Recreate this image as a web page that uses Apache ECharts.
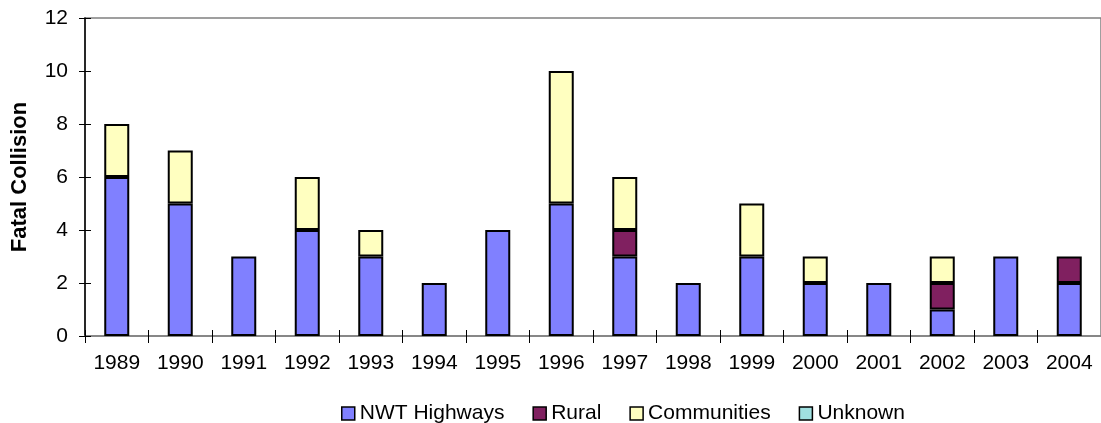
<!DOCTYPE html>
<html>
<head>
<meta charset="utf-8">
<script src="https://cdn.jsdelivr.net/npm/echarts@6/dist/echarts.min.js"></script>
<style>html,body{margin:0;padding:0;background:#fff}#c{width:1101px;height:423px}</style>
</head>
<body>
<div id="c"></div>
<script>
var years = ['1989','1990','1991','1992','1993','1994','1995','1996','1997','1998','1999','2000','2001','2002','2003','2004'];
var highways    = [6,5,3,4,3,2,4,5,3,2,3,2,2,1,3,2];
var rural       = [0,0,0,0,0,0,0,0,1,0,0,0,0,1,0,1];
var communities = [2,2,0,2,1,0,0,5,2,0,2,1,0,1,0,0];
var unknown     = [0,0,0,0,0,0,0,0,0,0,0,0,0,0,0,0];
var yTicks = [0,2,4,6,8,10,12];

var font = 'Liberation Sans, Arial, sans-serif';
function ser(name, data, color) {
  return {
    name: name, type: 'bar', stack: 'a', barWidth: 25,
    data: data.map(function (v) { return v === 0 ? null : v; }),
    itemStyle: { color: color, borderColor: '#000', borderWidth: 2 },
    emphasis: { disabled: true }, animation: false
  };
}
var chart = echarts.init(document.getElementById('c'));
chart.setOption({
  animation: false,
  grid: { left: 85, top: 18, width: 1025, height: 318, show: true, borderColor: '#808080', borderWidth: 1.5, backgroundColor: 'transparent' },
  legend: {
    left: 336, top: 398, icon: 'rect', itemWidth: 13, itemHeight: 13, itemGap: 28,
    textStyle: { fontFamily: font, fontSize: 21, color: '#000' },
    itemStyle: { borderColor: '#000', borderWidth: 1.5 },
    data: ['NWT Highways','Rural','Communities','Unknown']
  },
  xAxis: [{
    type: 'category', data: years, boundaryGap: true,
    axisLine: { lineStyle: { color: '#808080', width: 1.5 } },
    axisTick: { show: true, length: 7, lineStyle: { color: '#000' } },
    axisLabel: { fontFamily: font, fontSize: 21, color: '#000', margin: 17, interval: 0 }
  },{
    type: 'category', data: years, position: 'bottom', boundaryGap: true,
    axisLine: { show: false },
    axisTick: { show: true, inside: true, length: 6, lineStyle: { color: '#000' } },
    axisLabel: { show: false }
  }],
  yAxis: [{
    type: 'value', min: 0, max: 12, interval: 2,
    name: 'Fatal Collision', nameLocation: 'middle', nameGap: 54, nameRotate: 90,
    nameTextStyle: { fontFamily: font, fontSize: 22, fontWeight: 'bold', color: '#000' },
    axisLine: { show: true, lineStyle: { color: '#000', width: 1.5 } },
    axisTick: { show: true, length: 6, lineStyle: { color: '#000' } },
    splitLine: { show: false },
    axisLabel: { fontFamily: font, fontSize: 21, color: '#000', margin: 17,
      formatter: function (v) { return yTicks.indexOf(v) >= 0 ? String(v) : ''; } }
  },{
    type: 'value', min: 0, max: 12, interval: 2, position: 'left', offset: 0,
    axisLine: { show: false },
    axisTick: { show: true, inside: true, length: 6, lineStyle: { color: '#000' } },
    splitLine: { show: false }, axisLabel: { show: false }
  }],
  series: [
    ser('NWT Highways', highways, '#8080FF'),
    ser('Rural', rural, '#802060'),
    ser('Communities', communities, '#FFFFC0'),
    ser('Unknown', unknown, '#A0E0E0')
  ]
});
</script>
</body>
</html>
